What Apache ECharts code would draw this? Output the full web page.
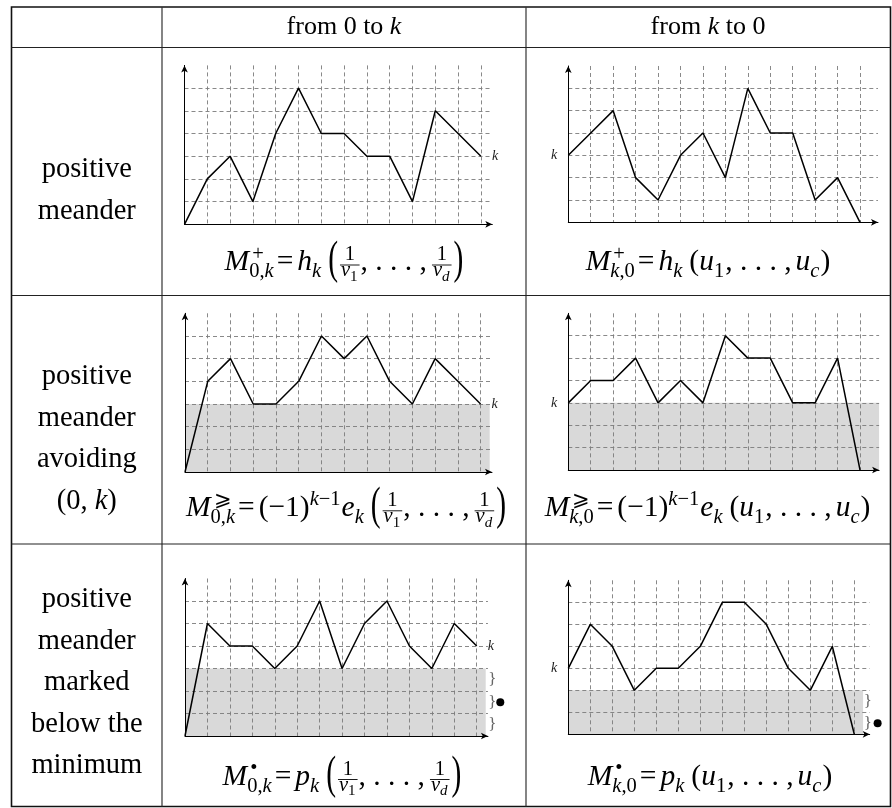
<!DOCTYPE html>
<html>
<head>
<meta charset="utf-8">
<script src="https://cdn.jsdelivr.net/npm/echarts@6/dist/echarts.min.js"></script>
<style>
  html, body { margin: 0; background: #fff; }
  #main { width: 892px; height: 808px; }
</style>
</head>
<body>
<div id="main"></div>
<script>
// heights of the six paths, one value per step 0..13
const path0k   = [0, 2, 3, 1, 4, 6, 4, 4, 3, 3, 1, 5, 4, 3];
const pathk0   = [3, 4, 5, 2, 1, 3, 4, 2, 6, 4, 4, 1, 2, 0];
const avoid0k  = [0, 4, 5, 3, 3, 4, 6, 5, 6, 4, 3, 5, 4, 3];
const avoidk0  = [3, 4, 4, 5, 3, 4, 3, 6, 5, 5, 3, 3, 5, 0];
const marked0k = [0, 5, 4, 4, 3, 4, 6, 3, 5, 6, 4, 3, 5, 4];
const markedk0 = [3, 5, 4, 2, 3, 3, 4, 6, 6, 5, 3, 2, 4, 0];

// grey band height per panel (0 = none)
const shadeLevels = [0, 0, 3, 3, 3, 2];
// levels of the small braces and of the bullet (bottom row)
const braces0k = [2.5, 1.5, 0.5];
const bullet0k = 1.5;
const bracesk0 = [1.5, 0.5];
const bulletk0 = 0.5;

const yTop = 7;
const colHeads = ['{r|from 0 to }{i|k}', '{r|from }{i|k}{r| to 0}'];
const rowLabels = [
  ['positive', 'meander'],
  ['positive', 'meander', 'avoiding', '{r|(0, }{i|k}{r|)}'],
  ['positive', 'meander', 'marked', 'below the', 'minimum']
];

const SERIF = '"Liberation Serif", "Times New Roman", serif';

// panel placement (pixels)
const panels = [
  { data: path0k,   ox: 184.5, oy: 224.3, ux: 22.8,  uy: 22.7,  xMax: 13.5,  kSide: 'end' },
  { data: pathk0,   ox: 568.3, oy: 222.3, ux: 22.44, uy: 22.33, xMax: 13.8,  kSide: 'start' },
  { data: avoid0k,  ox: 185,   oy: 472,   ux: 22.74, uy: 22.67, xMax: 13.5,  kSide: 'end',   shadeTo: 13.4 },
  { data: avoidk0,  ox: 568.3, oy: 470,   ux: 22.44, uy: 22.38, xMax: 13.85, kSide: 'start', shadeTo: 13.85 },
  { data: marked0k, ox: 185,   oy: 736,   ux: 22.44, uy: 22.5,  xMax: 13.5,  kSide: 'end',   shadeTo: 13.4,
    braces: braces0k, bullet: bullet0k, braceX: 13.7, bulletX: 14.05 },
  { data: markedk0, ox: 568.3, oy: 734.3, ux: 22,    uy: 22,    xMax: 13.7,  kSide: 'start', shadeTo: 13.4,
    braces: bracesk0, bullet: bulletk0, braceX: 13.62, bulletX: 14.06 }
];

function axis(i, max) {
  return {
    gridIndex: i, type: 'value', min: 0, max: max, interval: 1, z: 3,
    axisLine: { show: true, onZero: false, symbol: ['none', 'arrow'], symbolSize: [5, 7],
      lineStyle: { color: '#000', width: 1 } },
    axisTick: { show: false },
    axisLabel: { show: false },
    splitLine: { show: true, showMinLine: false, showMaxLine: false,
      lineStyle: { color: '#7c7c7c', width: 0.9, type: [4, 3] } }
  };
}

const option = { animation: false, backgroundColor: '#fff', grid: [], xAxis: [], yAxis: [], series: [] };
panels.forEach(function (p, i) {
  option.grid.push({ left: p.ox, top: p.oy - yTop * p.uy, width: p.xMax * p.ux, height: yTop * p.uy });
  option.xAxis.push(axis(i, p.xMax));
  option.yAxis.push(axis(i, yTop));
  if (shadeLevels[i]) {
    option.series.push({
      type: 'line', xAxisIndex: i, yAxisIndex: i, data: [[0, 0]], symbol: 'none', z: 1,
      lineStyle: { width: 0 },
      markArea: { silent: true, label: { show: false }, itemStyle: { color: '#d9d9d9' },
        data: [[{ coord: [0, 0] }, { coord: [p.shadeTo, shadeLevels[i]] }]] }
    });
  }
  option.series.push({
    type: 'line', xAxisIndex: i, yAxisIndex: i, z: 5, symbol: 'none', clip: false,
    data: p.data.map(function (v, j) { return [j, v]; }),
    lineStyle: { color: '#000', width: 1.5 }
  });
});

const chart = echarts.init(document.getElementById('main'), null, { renderer: 'canvas' });
chart.setOption(option);

// ---------- text helpers ----------
const mctx = document.createElement('canvas').getContext('2d');
function measure(t, size, italic) {
  mctx.font = (italic ? 'italic ' : '') + size + 'px ' + SERIF;
  return mctx.measureText(t).width;
}
function tx(t, size, italic, x, baseline) {
  return {
    type: 'text', x: x, y: baseline - 0.34 * size, silent: true, z: 10,
    style: { text: t, fontFamily: SERIF, fontSize: size, fontStyle: italic ? 'italic' : 'normal',
      fill: '#000', align: 'left', verticalAlign: 'middle' }
  };
}

// ---------- formula layout ----------
const S = 29.5, s = 20.5, ss = 15, MATH_AXIS = 7.5;
const R = function (t, z, o) { return Object.assign({ t: t, z: z || S, it: false }, o); };
const I = function (t, z, o) { return Object.assign({ t: t, z: z || S, it: true }, o); };
const EQ = R('=', S, { pre: 2, post: 4 });
const BIGL = R('(', S, { big: 1.6, pre: 6, post: 1 });
const BIGR = R(')', S, { big: 1.6, pre: 1 });
const DOTS = R(', . . . ,', S, { post: 4 });
function frac(sub, italic) {
  return { num: [R('1', s)], den: [I('v', s), { sub: [(italic ? I : R)(sub, ss)], dn: 4 }] };
}
function script(sup, sub, up) { return { sup: sup, sub: sub, up: up || 11, dn: 6.5 }; }
const sub0k = [R('0,', s), I('k', s)];
const subk0 = [I('k', s), R(',0', s)];
const vArgs = [BIGL, frac('1'), DOTS, frac('d', true), BIGR];
const uArgs = [R('(', S, { pre: 6 }), I('u'), script(null, [R('1', s)]), DOTS, I('u'), script(null, [I('c', s)]), R(')')];

const formulas = [
  { cx: 344, base: 272.5, toks: [I('M'), script([R('+', s, { pre: 3 })], sub0k), EQ, I('h'), script(null, [I('k', s)])].concat(vArgs) },
  { cx: 708, base: 272.5, toks: [I('M'), script([R('+', s, { pre: 3 })], subk0), EQ, I('h'), script(null, [I('k', s)])].concat(uArgs) },
  { cx: 346, base: 518.3, toks: [I('M'), script([R('⩾', s, { pre: 3 })], sub0k), EQ, R('(−1)'),
      script([I('k', s), R('−1', s)], null, 12), I('e'), script(null, [I('k', s)])].concat(vArgs) },
  { cx: 707.5, base: 518.3, toks: [I('M'), script([R('⩾', s, { pre: 3 })], subk0), EQ, R('(−1)'),
      script([I('k', s), R('−1', s)], null, 12), I('e'), script(null, [I('k', s)])].concat(uArgs) },
  { cx: 342, base: 787, toks: [I('M'), script([R('•', s, { pre: 3 })], sub0k), EQ, I('p'), script(null, [I('k', s)])].concat(vArgs) },
  { cx: 710, base: 787, toks: [I('M'), script([R('•', s, { pre: 3 })], subk0), EQ, I('p'), script(null, [I('k', s)])].concat(uArgs) }
];

function wOf(list) { return list.reduce(function (a, tk) { return a + tokW(tk); }, 0); }
function tokW(tk) {
  if (tk.num) return Math.max(wOf(tk.num), wOf(tk.den)) + 4;
  if (tk.sup || tk.sub) return Math.max(tk.sup ? wOf(tk.sup) : 0, tk.sub ? wOf(tk.sub) : 0) + 1;
  return (tk.pre || 0) + measure(tk.t, tk.z, tk.it) + (tk.post || 0);
}
function place(list, x, base, out) {
  list.forEach(function (tk) {
    const w = tokW(tk);
    if (tk.num) {
      const ax = base - MATH_AXIS;
      out.push({ type: 'line', silent: true, z: 10, shape: { x1: x + 1, y1: ax, x2: x + w - 1, y2: ax },
        style: { stroke: '#000', lineWidth: 0.9 } });
      place(tk.num, x + (w - wOf(tk.num)) / 2, ax - 3, out);
      place(tk.den, x + (w - wOf(tk.den)) / 2, ax + 13, out);
    } else if (tk.sup || tk.sub) {
      if (tk.sup) place(tk.sup, x, base - tk.up, out);
      if (tk.sub) place(tk.sub, x, base + tk.dn, out);
    } else {
      const el = tx(tk.t, tk.z, tk.it, x + (tk.pre || 0), base);
      if (tk.big) { el.y = base - MATH_AXIS - 4; el.scaleY = tk.big; }
      out.push(el);
    }
    x += w;
  });
}

// ---------- table, labels, annotations ----------
const g = [];
const L = 11.5, C1 = 162, C2 = 526, RT = 890.5, T = 7, H1 = 47.5, H2 = 295.5, H3 = 544, B = 806.5;
g.push({ type: 'rect', silent: true, z: 10, shape: { x: L, y: T, width: RT - L, height: B - T },
  style: { fill: 'none', stroke: '#111', lineWidth: 1.6 } });
[C1, C2].forEach(function (x) {
  g.push({ type: 'line', silent: true, z: 10, shape: { x1: x, y1: T, x2: x, y2: B }, style: { stroke: '#333', lineWidth: 1.2 } });
});
[H1, H2, H3].forEach(function (y) {
  g.push({ type: 'line', silent: true, z: 10, shape: { x1: L, y1: y, x2: RT, y2: y }, style: { stroke: '#222', lineWidth: 1.2 } });
});

const headRich = { r: { fontFamily: SERIF, fontSize: 26 }, i: { fontFamily: SERIF, fontSize: 26, fontStyle: 'italic' } };
[344, 708].forEach(function (cx, i) {
  g.push({ type: 'text', silent: true, z: 10, x: cx, y: 27.5,
    style: { text: colHeads[i], rich: headRich, fill: '#000', align: 'center', verticalAlign: 'middle' } });
});

const labRich = { r: { fontFamily: SERIF, fontSize: 28.5 }, i: { fontFamily: SERIF, fontSize: 28.5, fontStyle: 'italic' } };
const labTop = [170, 377, 600];
rowLabels.forEach(function (lines, r) {
  lines.forEach(function (t, j) {
    const txt = t.charAt(0) === '{' ? t : '{r|' + t + '}';
    g.push({ type: 'text', silent: true, z: 10, x: 86.8, y: labTop[r] + j * 41.4,
      style: { text: txt, rich: labRich, fill: '#000', align: 'center', verticalAlign: 'middle' } });
  });
});

formulas.forEach(function (f) { place(f.toks, f.cx - wOf(f.toks) / 2, f.base, g); });

panels.forEach(function (p, i) {
  const kIdx = p.kSide === 'end' ? p.data.length - 1 : 0;
  const pt = chart.convertToPixel({ gridIndex: i }, [kIdx, p.data[kIdx]]);
  g.push({ type: 'text', silent: true, z: 10, x: pt[0] + (p.kSide === 'end' ? 11 : -11), y: pt[1],
    style: { text: 'k', fontFamily: SERIF, fontSize: 14, fontStyle: 'italic', fill: '#222',
      align: p.kSide === 'end' ? 'left' : 'right', verticalAlign: 'middle' } });
  (p.braces || []).forEach(function (b) {
    const q = chart.convertToPixel({ gridIndex: i }, [p.braceX, b]);
    g.push({ type: 'text', silent: true, z: 10, x: q[0], y: q[1],
      style: { text: '}', fontFamily: SERIF, fontSize: 17, fill: '#666', align: 'center', verticalAlign: 'middle' } });
  });
  if (p.bullet != null) {
    const q = chart.convertToPixel({ gridIndex: i }, [p.bulletX, p.bullet]);
    g.push({ type: 'circle', silent: true, z: 10, shape: { cx: q[0], cy: q[1], r: 4 }, style: { fill: '#000' } });
  }
});

chart.setOption({ graphic: g });
</script>
</body>
</html>
